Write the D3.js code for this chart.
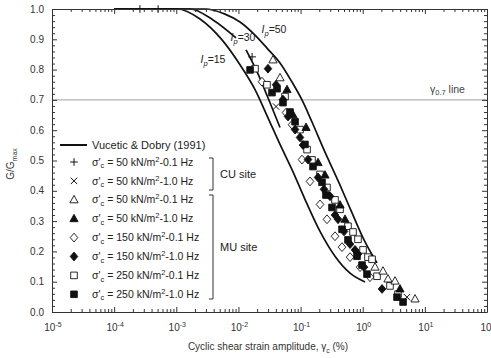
<!DOCTYPE html>
<html><head><meta charset="utf-8">
<script src="https://cdn.jsdelivr.net/npm/d3@7"></script>
<style>
html,body{margin:0;padding:0;background:#fff;}
svg{display:block;font-family:"Liberation Sans",Arial,Helvetica,sans-serif;}
</style></head><body>
<svg id="chart" width="491" height="358"></svg>
<script>
// Vucetic & Dobry (1991) reference curves: [shear strain (%), G/Gmax]
const curveIp15 = [[0.0001,1.0],[0.00103,1.0],[0.00241,0.967],[0.00545,0.898],[0.0106,0.816],[0.0185,0.734],[0.0299,0.641],[0.0467,0.553],[0.0728,0.470],[0.1177,0.372],[0.2056,0.266],[0.3581,0.184],[0.6252,0.128],[1.089,0.099]];
const curveIp30Upper = [[0.0001,1.0],[0.00166,1.0],[0.0039,0.964],[0.00914,0.905]];
const curveIp30Lower = [[0.01324,0.865],[0.0199,0.793],[0.0299,0.707],[0.0467,0.609]];
const curveIp50 = [[0.0001,1.0],[0.0029,1.0],[0.00608,0.983],[0.0106,0.957],[0.01782,0.917],[0.0288,0.871],[0.0467,0.822],[0.0728,0.759],[0.1054,0.700],[0.1527,0.627],[0.2382,0.535],[0.4159,0.426],[0.673,0.327],[1.049,0.238],[1.698,0.162]];

// Test results: [shear strain (%), G/Gmax]
const cu50Slow  = [[0.00026,1.0],[0.00051,1.0],[0.0166,0.842]];
const cu50Fast  = [[0.0403,0.678],[5.16,0.049]];
const mu50Slow  = [[0.0360,0.832],[0.0467,0.773],[1.578,0.148],[2.12,0.135],[2.55,0.109],[3.31,0.102],[6.95,0.043]];
const mu50Fast  = [[0.0605,0.734],[0.0755,0.651],[0.1225,0.609],[0.191,0.493],[0.247,0.452],[0.4315,0.353],[0.519,0.306],[3.98,0.076]];
const mu150Slow = [[0.0239,0.760],[0.0583,0.658],[0.0728,0.618],[0.1054,0.503],[0.1419,0.431],[0.2056,0.355],[0.2661,0.306],[0.3581,0.250],[0.4645,0.214],[0.6252,0.181],[0.9057,0.148],[1.31,0.115]];
const mu150Fast = [[0.0299,0.803],[0.0403,0.750],[0.0521,0.701],[0.0628,0.645],[0.0815,0.602],[0.0980,0.576],[0.1094,0.551],[0.1318,0.503],[0.1910,0.444],[0.2382,0.405],[0.2978,0.382],[0.3581,0.320],[0.4009,0.306],[0.5000,0.266],[0.6252,0.224],[0.7516,0.205],[0.8395,0.191],[1.049,0.148],[2.046,0.076]];
const mu250Slow = [[0.0185,0.803],[0.0288,0.750],[0.0562,0.711],[0.0980,0.602],[0.1271,0.536],[0.1527,0.502],[0.2056,0.454],[0.2661,0.411],[0.3581,0.370],[0.4315,0.339],[0.5794,0.283],[0.698,0.264],[0.8395,0.240],[1.012,0.205],[1.216,0.181],[1.413,0.174],[1.698,0.118],[2.748,0.086],[3.698,0.059]];
const mu250Fast = [[0.0154,0.799],[0.0347,0.724],[0.0418,0.737],[0.0521,0.691],[0.0676,0.660],[0.0815,0.628],[0.1177,0.553],[0.1585,0.480],[0.2213,0.428],[0.2564,0.386],[0.3206,0.345],[0.4645,0.273],[0.5794,0.238],[0.8091,0.184],[0.975,0.155],[1.172,0.125],[3.565,0.049],[4.457,0.033]];

// Legend entries
const legendStress = [50, 50, 50, 50, 150, 150, 250, 250];
const legendFreq = ["0.1", "1.0", "0.1", "1.0", "0.1", "1.0", "0.1", "1.0"];
const legendShapes = ["plus", "cross", "tri", "tri", "dia", "dia", "sq", "sq"];
const legendFilled = [false, false, false, true, false, true, false, true];

// Axis ticks
const xExponents = [-5, -4, -3, -2, -1, 0, 1, 2];
const yTickLabels = ["0.0","0.1","0.2","0.3","0.4","0.5","0.6","0.7","0.8","0.9","1.0"];

const svg = d3.select("#chart");
const x = d3.scaleLog().domain([1e-5, 1e2]).range([52, 487]);
const y = d3.scaleLinear().domain([0, 1]).range([312, 9]);
const ink = "#222";

// marker shapes
const shapePath = {
  plus:  "M-3.8,0H3.8M0,-3.8V3.8",
  cross: "M-3.2,-3.2L3.2,3.2M-3.2,3.2L3.2,-3.2",
  tri:   "M0,-4.4L4.1,3L-4.1,3Z",
  dia:   "M0,-4.4L3.8,0L0,4.4L-3.8,0Z",
  sq:    "M-3.3,-3.3H3.3V3.3H-3.3Z"
};
function marker(g, shape, filled, cx, cy) {
  const isLine = shape === "plus" || shape === "cross";
  g.append("path").attr("d", shapePath[shape])
    .attr("transform", `translate(${cx},${cy})`)
    .attr("fill", isLine ? "none" : (filled ? "#111" : "#fff"))
    .attr("stroke", "#111").attr("stroke-width", isLine ? 1 : 0.9);
}

// gamma 0.7 reference line
svg.append("line").attr("x1", x(1e-5)).attr("x2", x(1e2)).attr("y1", y(0.7)).attr("y2", y(0.7))
  .attr("stroke", "#a0a0a0").attr("stroke-width", 1);
const g07 = svg.append("text").attr("x", 430).attr("y", y(0.7) - 7).attr("font-size", 10.5).attr("fill", "#444");
g07.append("tspan").text("γ");
g07.append("tspan").attr("font-size", 7.5).attr("dy", 2.5).text("0.7");
g07.append("tspan").attr("dy", -2.5).text(" line");

// reference curves
const line = d3.line().x(d => x(d[0])).y(d => y(d[1])).curve(d3.curveMonotoneX);
[curveIp15, curveIp30Upper, curveIp30Lower, curveIp50].forEach(c => {
  svg.append("path").attr("d", line(c)).attr("fill", "none").attr("stroke", "#111").attr("stroke-width", 1.7);
});

// curve labels
function ipLabel(cx, cy, val) {
  const t = svg.append("text").attr("x", cx).attr("y", cy).attr("font-size", 10.5).attr("fill", ink).attr("text-anchor", "middle");
  t.append("tspan").attr("font-style", "italic").text("I");
  t.append("tspan").attr("font-style", "italic").attr("font-size", 7.5).attr("dy", 3).text("p");
  t.append("tspan").attr("dy", -3).text("=" + val);
}
ipLabel(213, 63, 15);
ipLabel(243, 41, 30);
ipLabel(274, 33, 50);

// test data
const series = [
  {data: mu150Slow, shape: "dia", filled: false},
  {data: mu250Slow, shape: "sq", filled: false},
  {data: mu50Slow, shape: "tri", filled: false},
  {data: mu150Fast, shape: "dia", filled: true},
  {data: mu250Fast, shape: "sq", filled: true},
  {data: mu50Fast, shape: "tri", filled: true},
  {data: cu50Slow, shape: "plus", filled: false},
  {data: cu50Fast, shape: "cross", filled: false}
];
const pts = svg.append("g");
series.forEach(s => s.data.forEach(d => marker(pts, s.shape, s.filled, x(d[0]), y(d[1]))));

// axes with inward ticks
const xMajor = xExponents.map(e => Math.pow(10, e));
const xMinor = [];
xExponents.slice(0, -1).forEach(e => { for (let k = 2; k <= 9; k++) xMinor.push(k * Math.pow(10, e)); });
const yMajor = d3.range(0, 11).map(i => i / 10);
const yMinor = d3.range(0, 51).map(i => i / 50).filter((v, i) => i % 5 !== 0);

function styleAxis(g) {
  g.selectAll("path,line").attr("stroke", "#333").attr("stroke-width", 1);
  g.selectAll("text").remove();
}
svg.append("g").attr("transform", `translate(0,${y(0)})`).call(d3.axisBottom(x).tickValues(xMajor).tickSize(-5).tickSizeOuter(0)).call(styleAxis);
svg.append("g").attr("transform", `translate(0,${y(0)})`).call(d3.axisBottom(x).tickValues(xMinor).tickSize(-3).tickSizeOuter(0)).call(styleAxis).select(".domain").remove();
svg.append("g").attr("transform", `translate(0,${y(1)})`).call(d3.axisTop(x).tickValues(xMajor).tickSize(-5).tickSizeOuter(0)).call(styleAxis);
svg.append("g").attr("transform", `translate(0,${y(1)})`).call(d3.axisTop(x).tickValues(xMinor).tickSize(-3).tickSizeOuter(0)).call(styleAxis).select(".domain").remove();
svg.append("g").attr("transform", `translate(${x(1e-5)},0)`).call(d3.axisLeft(y).tickValues(yMajor).tickSize(-5).tickSizeOuter(0)).call(styleAxis);
svg.append("g").attr("transform", `translate(${x(1e-5)},0)`).call(d3.axisLeft(y).tickValues(yMinor).tickSize(-3).tickSizeOuter(0)).call(styleAxis).select(".domain").remove();
svg.append("g").attr("transform", `translate(${x(1e2)},0)`).call(d3.axisRight(y).tickValues(yMajor).tickSize(-5).tickSizeOuter(0)).call(styleAxis);
svg.append("g").attr("transform", `translate(${x(1e2)},0)`).call(d3.axisRight(y).tickValues(yMinor).tickSize(-3).tickSizeOuter(0)).call(styleAxis).select(".domain").remove();

// tick labels
yTickLabels.forEach((lab, i) => {
  svg.append("text").attr("x", 44).attr("y", y(i / 10)).attr("dy", "0.35em").attr("text-anchor", "end")
    .attr("font-size", 10).attr("fill", "#333").text(lab);
});
xExponents.forEach(e => {
  const t = svg.append("text").attr("x", x(Math.pow(10, e)) + 1).attr("y", 331).attr("text-anchor", "middle")
    .attr("font-size", 10).attr("fill", "#333");
  t.append("tspan").text("10");
  t.append("tspan").attr("font-size", 7).attr("dy", -4).text(e);
});

// axis titles
const xt = svg.append("text").attr("x", 268).attr("y", 350).attr("text-anchor", "middle").attr("font-size", 10).attr("fill", "#333");
xt.append("tspan").text("Cyclic shear strain amplitude, γ");
xt.append("tspan").attr("font-size", 7).attr("dy", 2.5).text("c");
xt.append("tspan").attr("dy", -2.5).text(" (%)");
const yt = svg.append("text").attr("transform", "translate(14,164) rotate(-90)").attr("text-anchor", "middle").attr("font-size", 10).attr("fill", "#333");
yt.append("tspan").text("G/G");
yt.append("tspan").attr("font-size", 7).attr("dy", 3).text("max");

// legend
const lg = svg.append("g");
lg.append("line").attr("x1", 60).attr("x2", 87).attr("y1", 145).attr("y2", 145).attr("stroke", "#111").attr("stroke-width", 2);
lg.append("text").attr("x", 92).attr("y", 145).attr("dy", "0.35em").attr("font-size", 11).attr("fill", ink).text("Vucetic & Dobry (1991)");
legendStress.forEach((s, i) => {
  const ry = 162 + i * 18.9;
  marker(lg, legendShapes[i], legendFilled[i], 74, ry);
  const t = lg.append("text").attr("x", 92).attr("y", ry + 3.6).attr("font-size", 10.5).attr("fill", ink);
  t.append("tspan").text("σ'");
  t.append("tspan").attr("font-size", 7.5).attr("dy", 2.5).text("c");
  t.append("tspan").attr("dy", -2.5).text(` = ${s} kN/m`);
  t.append("tspan").attr("font-size", 7.5).attr("dy", -4).text("2");
  t.append("tspan").attr("dy", 4).text(`-${legendFreq[i]} Hz`);
});
// site brackets
function bracket(y1, y2, label) {
  lg.append("path").attr("d", `M209,${y1}H213V${y2}H209`).attr("fill", "none").attr("stroke", "#333").attr("stroke-width", 1);
  lg.append("text").attr("x", 220).attr("y", (y1 + y2) / 2).attr("dy", "0.35em").attr("font-size", 11).attr("fill", ink).text(label);
}
bracket(158, 190, "CU site");
bracket(195, 299, "MU site");
</script>
</body></html>
